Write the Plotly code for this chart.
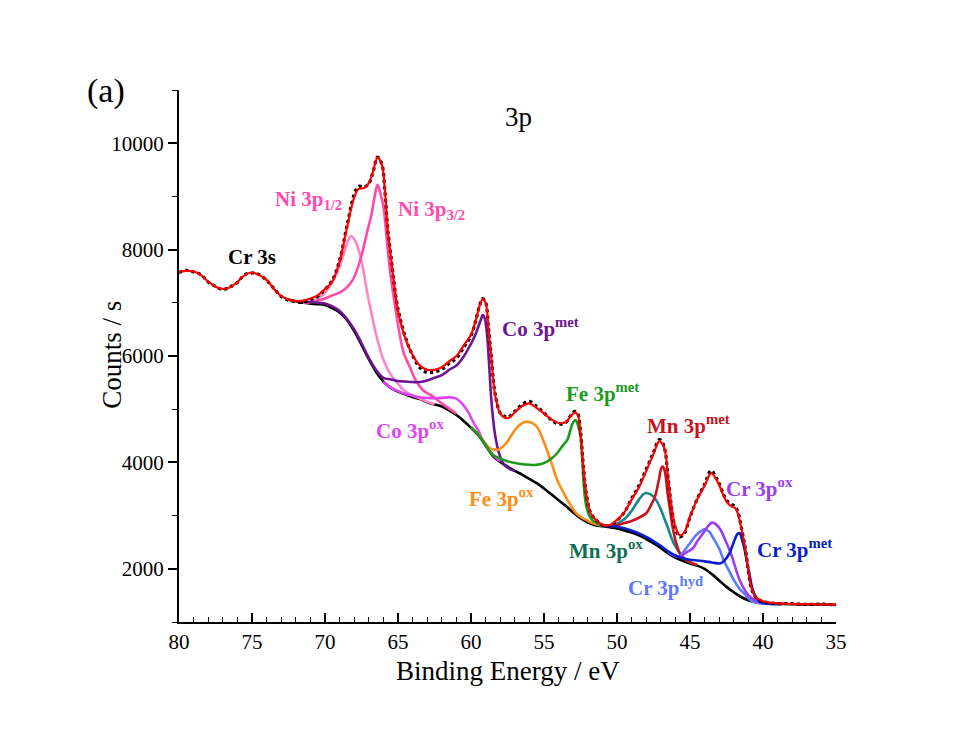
import plotly.graph_objects as go

# ---------------- spectrum data (binding energy / eV, counts / s) ----------------
env_e = [80.0, 79.5, 79.0, 78.5, 78.0, 77.5, 77.0, 76.5, 76.0, 75.5, 75.0, 74.5, 74.0, 73.5,
         73.0, 72.5, 72.0, 71.5, 71.0, 70.5, 70.0, 69.5, 69.0, 68.5, 68.0, 67.7, 67.3, 67.0,
         66.7, 66.4, 66.1, 65.9, 65.7, 65.5, 65.3, 65.0, 64.5, 64.0, 63.5, 63.0, 62.5, 62.0,
         61.5, 61.0, 60.5, 60.0, 59.7, 59.4, 59.2, 59.0, 58.8, 58.6, 58.4, 58.2, 58.0, 57.5,
         57.0, 56.5, 56.0, 55.5, 55.0, 54.5, 54.0, 53.5, 53.2, 52.9, 52.7, 52.5, 52.3, 52.1,
         51.8, 51.3, 51.0, 50.5, 50.0, 49.5, 49.0, 48.5, 48.0, 47.5, 47.1, 46.9, 46.7, 46.5,
         46.2, 46.0, 45.7, 45.4, 45.0, 44.5, 44.0, 43.55, 43.2, 43.0, 42.5, 42.2, 41.9, 41.7,
         41.5, 41.2, 41.0, 40.8, 40.5, 40.0, 39.0, 38.0, 37.0, 36.0, 35.0]
env_c = [7580, 7600, 7590, 7520, 7400, 7300, 7260, 7290, 7390, 7520, 7570, 7520, 7430, 7260,
         7130, 7060, 7030, 7040, 7080, 7140, 7260, 7400, 7780, 8400, 8980, 9140, 9160, 9250,
         9480, 9730, 9590, 9120, 8370, 7900, 7430, 6850, 6330, 6020, 5820, 5740, 5740, 5790,
         5900, 6000, 6200, 6400, 6650, 6950, 7070, 7000, 6500, 5950, 5360, 5080, 4920, 4830,
         4940, 5060, 5110, 5020, 4920, 4810, 4740, 4760, 4860, 4935, 4900, 4560, 3900, 3400,
         3040, 2886, 2830, 2820, 2920, 3060, 3300, 3530, 3840, 4160, 4400, 4350, 4200, 3700,
         3050, 2790, 2630, 2680, 2980, 3310, 3560, 3800, 3680, 3570, 3262, 3180, 3138, 3020,
         2780, 2354, 1950, 1650, 1470, 1390, 1350, 1340, 1335, 1330, 1325]

meas_c = [7570, 7610, 7580, 7530, 7390, 7310, 7250, 7300, 7380, 7530, 7560, 7530, 7420, 7270,
          7120, 7050, 7020, 7010, 7060, 7120, 7250, 7420, 7800, 8440, 9040, 9190, 9180, 9240,
          9470, 9740, 9600, 9100, 8380, 7920, 7440, 6880, 6360, 6010, 5780, 5690, 5700, 5750,
          5860, 5960, 6160, 6380, 6640, 6960, 7080, 7010, 6520, 5960, 5380, 5090, 4930, 4850,
          4960, 5090, 5150, 5050, 4930, 4800, 4720, 4750, 4870, 4960, 4920, 4580, 3920, 3410,
          3050, 2880, 2820, 2810, 2910, 3060, 3320, 3560, 3870, 4190, 4430, 4380, 4210, 3710,
          3030, 2760, 2600, 2660, 2970, 3320, 3590, 3850, 3710, 3600, 3290, 3220, 3170, 3050,
          2800, 2360, 1950, 1640, 1460, 1385, 1345, 1345, 1330, 1335, 1320]

bg_e = [72.5, 72.0, 71.5, 71.0, 70.5, 70.0, 69.5, 69.0, 68.5, 68.0, 67.5, 67.0, 66.5, 66.0,
        65.5, 65.0, 64.5, 64.0, 63.5, 63.0, 62.5, 62.0, 61.5, 61.0, 60.5, 60.0, 59.5, 59.0,
        58.5, 58.0, 57.5, 57.0, 56.5, 56.0, 55.5, 55.0, 54.5, 54.0, 53.5, 53.0, 52.5, 52.0,
        51.5, 51.0, 50.5, 50.0, 49.5, 49.0, 48.5, 48.0, 47.5, 47.0, 46.5, 46.0, 45.5, 45.0,
        44.5, 44.0, 43.5, 43.0, 42.5, 42.0, 41.5, 41.0, 40.5, 40.0, 39.0, 38.0, 37.0, 36.0, 35.0]
bg_c = [7060, 7030, 7000, 6985, 6975, 6960, 6900, 6820, 6680, 6470, 6210, 5940, 5700, 5520,
        5400, 5330, 5280, 5230, 5190, 5130, 5090, 5050, 4980, 4890, 4780, 4650, 4510, 4320,
        4120, 4010, 3920, 3840, 3770, 3690, 3610, 3510, 3400, 3290, 3180, 3060, 2950, 2870,
        2820, 2800, 2780, 2760, 2720, 2680, 2630, 2560, 2480, 2390, 2290, 2210, 2150, 2100,
        2060, 2000, 1900, 1780, 1660, 1560, 1470, 1410, 1370, 1350, 1340, 1335, 1330, 1328, 1325]

ni12_e = [71.5, 71.0, 70.5, 70.0, 69.5, 69.0, 68.7, 68.4, 68.2, 67.9, 67.7, 67.4, 67.1, 66.8,
          66.5, 66.0, 65.5, 65.0, 64.5, 64.0, 63.5, 63.0, 62.5]
ni12_c = [7000, 7020, 7080, 7190, 7390, 7680, 7930, 8180, 8257, 8150, 7994, 7650, 7180, 6780,
          6400, 5930, 5650, 5480, 5330, 5260, 5200, 5140, 5095]

ni32_e = [71.5, 71.0, 70.5, 70.0, 69.5, 69.0, 68.5, 68.1, 67.7, 67.4, 67.1, 66.8, 66.6, 66.4,
          66.2, 66.0, 65.7, 65.5, 65.3, 64.9, 64.6, 64.2, 63.8, 63.3, 62.6, 62.0, 61.0]
ni32_c = [7000, 7010, 7040, 7080, 7140, 7190, 7290, 7430, 7700, 7994, 8350, 8683, 9000, 9216,
          9050, 8810, 7994, 7500, 7117, 6428, 6050, 5800, 5550, 5362, 5236, 5110, 4920]

co_met_e = [71.5, 71.0, 70.0, 69.0, 68.0, 67.0, 66.5, 66.0, 65.5, 65.0, 64.5, 64.0, 63.5, 63.0,
            62.5, 62.0, 61.5, 61.0, 60.5, 60.0, 59.7, 59.5, 59.3, 59.2, 59.05, 58.9, 58.75,
            58.6, 58.4, 58.2, 58.0, 57.7, 57.3, 57.0]
co_met_c = [7025, 7010, 6985, 6845, 6500, 5965, 5735, 5590, 5560, 5530, 5520, 5510, 5510, 5540,
            5590, 5640, 5740, 5820, 5990, 6230, 6400, 6550, 6700, 6772, 6700, 6400, 5800,
            5150, 4610, 4300, 4108, 3950, 3870, 3840]

co_ox_e = [66.0, 65.5, 65.0, 64.5, 64.0, 63.5, 63.0, 62.5, 62.0, 61.5, 61.0, 60.6, 60.2, 59.8,
           59.5, 59.2, 58.9, 58.5, 58.0]
co_ox_c = [5525, 5405, 5340, 5290, 5255, 5225, 5210, 5208, 5212, 5222, 5200, 5100, 4950, 4736,
           4600, 4420, 4296, 4140, 4020]

fe_ox_e = [60.0, 59.5, 59.0, 58.7, 58.4, 58.2, 57.9, 57.6, 57.3, 56.9, 56.5, 56.1, 55.8, 55.5,
           55.1, 54.8, 54.4, 54.1, 53.7, 53.4, 53.0, 52.8, 52.4, 52.1, 51.7, 51.3, 51.0]
fe_ox_c = [4660, 4530, 4350, 4266, 4240, 4234, 4280, 4360, 4480, 4642, 4740, 4766, 4740, 4674,
           4450, 4234, 3920, 3670, 3450, 3294, 3120, 3044, 2960, 2918, 2860, 2830, 2810]

fe_met_e = [60.0, 59.5, 59.0, 58.5, 58.0, 57.5, 56.9, 56.3, 55.7, 55.2, 54.8, 54.4, 54.1, 53.7,
            53.4, 53.2, 53.05, 52.85, 52.7, 52.5, 52.4, 52.3, 52.2, 52.1, 51.9, 51.7, 51.3, 51.0]
fe_met_c = [4660, 4520, 4330, 4140, 4078, 4020, 3984, 3960, 3952, 3970, 4016, 4090, 4172, 4320,
            4422, 4600, 4730, 4798, 4720, 4484, 4150, 3670, 3350, 3168, 3000, 2918, 2850, 2815]

mn_ox_e = [50.5, 50.0, 49.5, 49.0, 48.5, 48.2, 48.0, 47.7, 47.4, 47.1, 46.8, 46.5, 46.3, 46.0,
           45.7, 45.4, 45.0, 44.5]
mn_ox_c = [2800, 2850, 2930, 3090, 3300, 3400, 3425, 3400, 3326, 3180, 2980, 2760, 2604, 2420,
           2300, 2200, 2120, 2070]

mn_met_e = [50.5, 50.0, 49.5, 49.0, 48.5, 48.0, 47.7, 47.4, 47.15, 46.95, 46.85, 46.7, 46.55,
            46.4, 46.2, 46.0, 45.7, 45.4, 45.0, 44.5]
mn_met_c = [2800, 2820, 2860, 2900, 2960, 3044, 3180, 3356, 3650, 3900, 3920, 3800, 3450,
            3168, 2800, 2542, 2292, 2190, 2120, 2070]

cr_hyd_e = [46.5, 46.0, 45.7, 45.4, 45.0, 44.6, 44.3, 44.0, 43.7, 43.4, 43.0, 42.7, 42.3, 42.0,
            41.6, 41.3, 41.0, 40.7, 40.2, 39.5]
cr_hyd_c = [2320, 2240, 2240, 2340, 2480, 2630, 2698, 2743, 2700, 2574, 2380, 2166, 1950, 1790,
            1620, 1540, 1450, 1382, 1355, 1345]

cr_ox_e = [46.5, 46.0, 45.7, 45.3, 44.8, 44.5, 44.1, 43.8, 43.5, 43.2, 42.9, 42.6, 42.2, 41.9,
           41.6, 41.2, 40.9, 40.5, 40.2, 39.5]
cr_ox_c = [2320, 2240, 2230, 2300, 2386, 2520, 2668, 2790, 2868, 2830, 2730, 2550, 2292, 2030,
           1790, 1580, 1476, 1400, 1370, 1345]

cr_met_e = [51.0, 50.0, 49.0, 48.0, 47.0, 46.5, 46.0, 45.5, 45.0, 44.5, 44.0, 43.5, 42.9, 42.6,
            42.3, 42.1, 41.9, 41.75, 41.6, 41.45, 41.3, 41.1, 40.9, 40.7, 40.5, 40.2, 39.7, 39.0]
cr_met_c = [2810, 2790, 2720, 2600, 2430, 2330, 2250, 2200, 2170, 2155, 2140, 2120, 2104, 2170,
            2292, 2430, 2574, 2655, 2668, 2560, 2416, 2130, 1852, 1600, 1476, 1380, 1350, 1340]

# ---------------- figure ----------------
serif = "Liberation Serif, Times New Roman, Times, serif"
fig = go.Figure()

components = [
    (ni12_e, ni12_c, "Ni 3p1/2", "#FF86C6"),
    (ni32_e, ni32_c, "Ni 3p3/2", "#FF4AA6"),
    (co_ox_e, co_ox_c, "Co 3p ox", "#DE46F2"),
    (co_met_e, co_met_c, "Co 3p met", "#6E1590"),
    (fe_ox_e, fe_ox_c, "Fe 3p ox", "#FF8C14"),
    (fe_met_e, fe_met_c, "Fe 3p met", "#1C9A1C"),
    (mn_ox_e, mn_ox_c, "Mn 3p ox", "#17878A"),
    (mn_met_e, mn_met_c, "Mn 3p met", "#C8141E"),
    (cr_hyd_e, cr_hyd_c, "Cr 3p hyd", "#5C7AFF"),
    (cr_ox_e, cr_ox_c, "Cr 3p ox", "#9D3CF5"),
    (cr_met_e, cr_met_c, "Cr 3p met", "#0A1ECC"),
]

fig.add_trace(go.Scatter(x=bg_e, y=bg_c, mode="lines", name="background",
                         line=dict(color="black", width=2.6, shape="spline")))
for xe, yc, nm, col in components:
    fig.add_trace(go.Scatter(x=xe, y=yc, mode="lines", name=nm,
                             line=dict(color=col, width=2.6, shape="spline")))

fig.add_trace(go.Scatter(x=env_e, y=meas_c, mode="lines", name="measured",
                         line=dict(color="black", width=3.2, dash="dot", shape="spline")))
fig.add_trace(go.Scatter(x=env_e, y=env_c, mode="lines", name="envelope",
                         line=dict(color="#FF0000", width=2.2, shape="spline")))

# peak labels: (text, energy, counts, colour)
labels = [
    ("Cr 3s", 75.0, 7860, "black"),
    ("Ni 3p<sub>1/2</sub>", 71.16, 8934, "#FF4AAE"),
    ("Ni 3p<sub>3/2</sub>", 62.74, 8746, "#FF4AAE"),
    ("Co 3p<sup>met</sup>", 55.27, 6527, "#6E1590"),
    ("Co 3p<sup>ox</sup>", 64.18, 4610, "#DE46F2"),
    ("Fe 3p<sup>met</sup>", 50.96, 5305, "#1C9A1C"),
    ("Fe 3p<sup>ox</sup>", 57.88, 3331, "#FF8C14"),
    ("Mn 3p<sup>met</sup>", 45.07, 4704, "#C8141E"),
    ("Mn 3p<sup>ox</sup>", 50.75, 2372, "#0F6E52"),
    ("Cr 3p<sup>ox</sup>", 40.27, 3519, "#9D3CF5"),
    ("Cr 3p<sup>met</sup>", 37.84, 2391, "#0A1ECC"),
    ("Cr 3p<sup>hyd</sup>", 46.71, 1658, "#5C7AFF"),
]
for txt, xe, yc, col in labels:
    fig.add_annotation(x=xe, y=yc, xref="x", yref="y", text="<b>%s</b>" % txt,
                       showarrow=False, xanchor="center", yanchor="middle",
                       font=dict(family=serif, size=21, color=col))

fig.add_annotation(x=0.5175, y=0.981, xref="paper", yref="paper", text="3p", showarrow=False,
                   font=dict(family=serif, size=27, color="black"))
fig.add_annotation(x=-0.143, y=1.0376, xref="paper", yref="paper", text="(a)", showarrow=False,
                   font=dict(family=serif, size=34, color="black"))
fig.add_annotation(x=-0.128, y=0.502, xref="paper", yref="paper", text="Counts / s",
                   showarrow=False, textangle=-90,
                   font=dict(family=serif, size=27, color="black"))
fig.add_annotation(x=0.5008, y=-0.124, xref="paper", yref="paper", text="Binding Energy / eV",
                   showarrow=False, font=dict(family=serif, size=27, color="black"))

fig.update_layout(
    width=967, height=745,
    margin=dict(l=179, r=131, t=90, b=123),
    paper_bgcolor="white", plot_bgcolor="white",
    showlegend=False,
    font=dict(family=serif, size=21, color="black"),
)
fig.update_xaxes(
    range=[80, 35], tickmode="linear", tick0=35, dtick=5, tickformat="d",
    showgrid=False, zeroline=False, showline=True, linecolor="black", linewidth=2,
    ticks="inside", ticklen=9, tickwidth=1.5, tickcolor="black",
    minor=dict(dtick=1, ticks="inside", ticklen=5, tickwidth=1.2, tickcolor="black", showgrid=False),
    tickfont=dict(family=serif, size=21, color="black"),
)
fig.update_yaxes(
    range=[1000, 11000], tickmode="linear", tick0=0, dtick=2000, tickformat="d",
    showgrid=False, zeroline=False, showline=True, linecolor="black", linewidth=2,
    ticks="outside", ticklen=9, tickwidth=1.5, tickcolor="black",
    minor=dict(dtick=1000, ticks="outside", ticklen=5, tickwidth=1.2, tickcolor="black", showgrid=False),
    tickfont=dict(family=serif, size=21, color="black"),
)

fig.write_html("out.html")
